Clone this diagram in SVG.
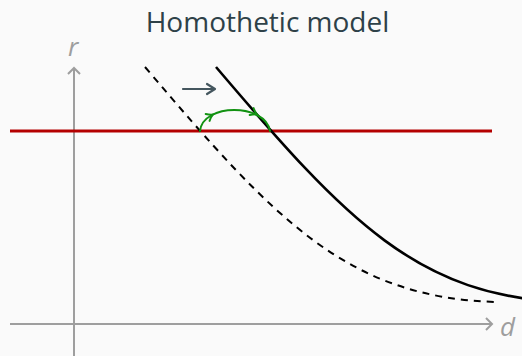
<svg xmlns="http://www.w3.org/2000/svg" width="522" height="356" viewBox="0 0 522 356">
  <style>
    .axis { stroke: #9e9e9e; stroke-width: 2; fill: none; }
    .lbl { font-family: "Open Sans", "Noto Sans", sans-serif; font-style: italic; font-size: 26px; fill: #9e9e9e; }
    .title { font-family: "Open Sans", "Noto Sans", sans-serif; font-size: 28px; fill: #2e4148; }
    .curve { stroke: #000; fill: none; stroke-width: 2.6; }
    .dashed { stroke: #000; fill: none; stroke-width: 2; stroke-dasharray: 7 6; }
    .green { stroke: #129212; fill: none; stroke-width: 2; stroke-linecap: round; }
  </style>
  <defs>
    <path id="gtip" d="M-5,-4 Q-1.5,-0.8 1,0 Q-1.5,0.8 -5,4" class="green"/>
  </defs>
  <rect x="0" y="0" width="522" height="356" fill="#fafafa"/>

  <g id="title">
    <text class="title" x="267.5" y="32" text-anchor="middle">Homothetic model</text>
  </g>

  <g id="axes">
    <line class="axis" x1="74" y1="356" x2="74" y2="68"/>
    <path class="axis" d="M68,74 L74,68 L80,74"/>
    <line class="axis" x1="10" y1="324" x2="492" y2="324"/>
    <path class="axis" d="M486,318 L492,324 L486,330"/>
    <text class="lbl" x="68" y="56">r</text>
    <text class="lbl" x="500" y="336">d</text>
  </g>

  <g id="connectors">
    <line id="price-line" x1="10" y1="131" x2="492" y2="131" stroke="#b40000" stroke-width="3"/>
    <path id="old-curve" class="dashed" d="M145,67 C275,220 347,298 497,302"/>
    <path id="new-curve" class="curve" d="M216,67 C346,220 418,298 568,302"/>
    <path id="shift-arc" class="green" d="M200,131 C203,103 265,103 270,131"/>
    <use href="#gtip" transform="translate(212,115) rotate(-29)"/>
    <use href="#gtip" transform="translate(256,114) rotate(29)"/>
  </g>

  <g id="shift-arrow">
    <path d="M183,89 L214,89 M207,84 L215,89 L207,94" stroke="#44565e" stroke-width="2.2" fill="none" stroke-linecap="round" stroke-linejoin="round"/>
  </g>
</svg>
